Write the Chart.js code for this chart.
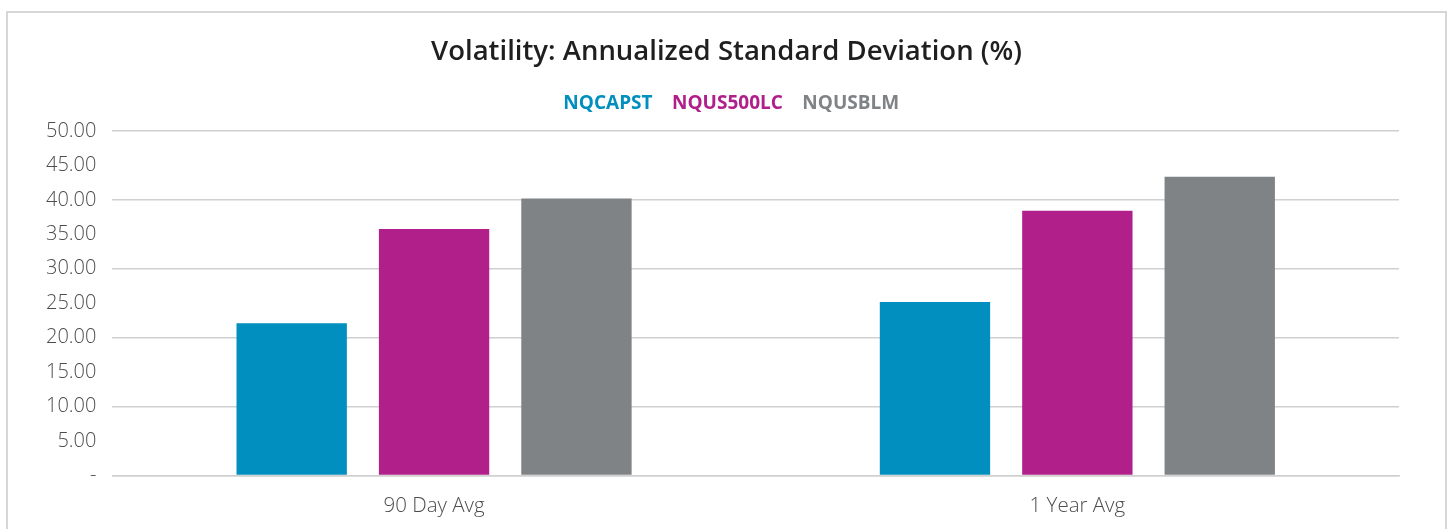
<!DOCTYPE html>
<html>
<head>
<meta charset="utf-8">
<script src="https://cdn.jsdelivr.net/npm/chart.js@4/dist/chart.umd.min.js"></script>
<style>
  html, body { margin: 0; padding: 0; background: #fff; overflow: hidden; }
  .frame {
    position: absolute; left: 6px; top: 11px;
    width: 1437px; height: 530px;
    border: 2px solid #d6d6d6;
    background: #fff;
  }
  .frame canvas { display: block; }
</style>
</head>
<body>
<div class="frame">
  <canvas id="volChart" width="1437" height="530"></canvas>
</div>
<script>
// Chart data
const categories = ['90 Day Avg', '1 Year Avg'];
const seriesNames = ['NQCAPST', 'NQUS500LC', 'NQUSBLM'];
const nqcapst = [22.08, 25.16];
const nqus500lc = [35.78, 38.42];
const nqusblm = [40.2, 43.34];
const seriesColors = ['#008fbe', '#b01f8a', '#7f8386'];
const yMin = 0;
const yMax = 50;
const yStep = 5;

const fontFamily = "'Open Sans', 'DejaVu Sans', sans-serif";

function makeDataset(i, values) {
  return {
    label: seriesNames[i],
    data: values,
    backgroundColor: seriesColors[i],
    borderWidth: 0,
    categoryPercentage: 0.664,
    barPercentage: 0.775
  };
}

// extra gap under the legend, and centre title + legend on the whole frame
const headerFix = {
  id: 'headerFix',
  beforeInit(chart) {
    const fit = chart.legend.fit;
    chart.legend.fit = function() {
      fit.bind(chart.legend)();
      this.height += 8;
    };
  },
  afterLayout(chart) {
    [chart.titleBlock, chart.legend].forEach(box => {
      if (!box) return;
      box.left = 0;
      box.right = chart.width;
    });
  }
};

const ctx = document.getElementById('volChart');
new Chart(ctx, {
  type: 'bar',
  data: {
    labels: categories,
    datasets: [
      makeDataset(0, nqcapst),
      makeDataset(1, nqus500lc),
      makeDataset(2, nqusblm)
    ]
  },
  plugins: [headerFix],
  options: {
    responsive: false,
    animation: false,
    layout: {
      padding: { left: 22, right: 46, top: 18, bottom: 7 }
    },
    plugins: {
      title: {
        display: true,
        text: 'Volatility: Annualized Standard Deviation (%)',
        color: '#1f1f1f',
        font: { family: fontFamily, size: 27.5, weight: '600' },
        padding: { top: 5, bottom: 15 }
      },
      legend: {
        display: true,
        position: 'top',
        labels: {
          boxWidth: 0,
          boxHeight: 0,
          padding: 10,
          font: { family: fontFamily, size: 19, weight: 'bold' },
          generateLabels: function(chart) {
            return chart.data.datasets.map((ds, i) => ({
              text: ds.label,
              fillStyle: 'transparent',
              strokeStyle: 'transparent',
              lineWidth: 0,
              fontColor: seriesColors[i],
              datasetIndex: i,
              hidden: false
            }));
          }
        }
      },
      tooltip: { enabled: false }
    },
    scales: {
      x: {
        grid: { display: false, drawTicks: false },
        border: { display: true, color: '#d0d0d0', width: 1.5 },
        ticks: {
          color: '#4d4d4d',
          font: { family: fontFamily, size: 20.5, weight: '300' },
          padding: 18
        }
      },
      y: {
        min: yMin,
        max: yMax,
        grid: {
          drawTicks: false,
          lineWidth: 1.5,
          color: function(c) {
            return c.index % 2 === 0 ? '#d0d0d0' : 'rgba(0,0,0,0)';
          }
        },
        border: { display: false },
        ticks: {
          stepSize: yStep,
          color: '#4d4d4d',
          font: { family: fontFamily, size: 20, weight: '300' },
          padding: 16,
          callback: function(value) {
            return value === 0 ? '-' : value.toFixed(2);
          }
        }
      }
    }
  }
});
</script>
</body>
</html>
